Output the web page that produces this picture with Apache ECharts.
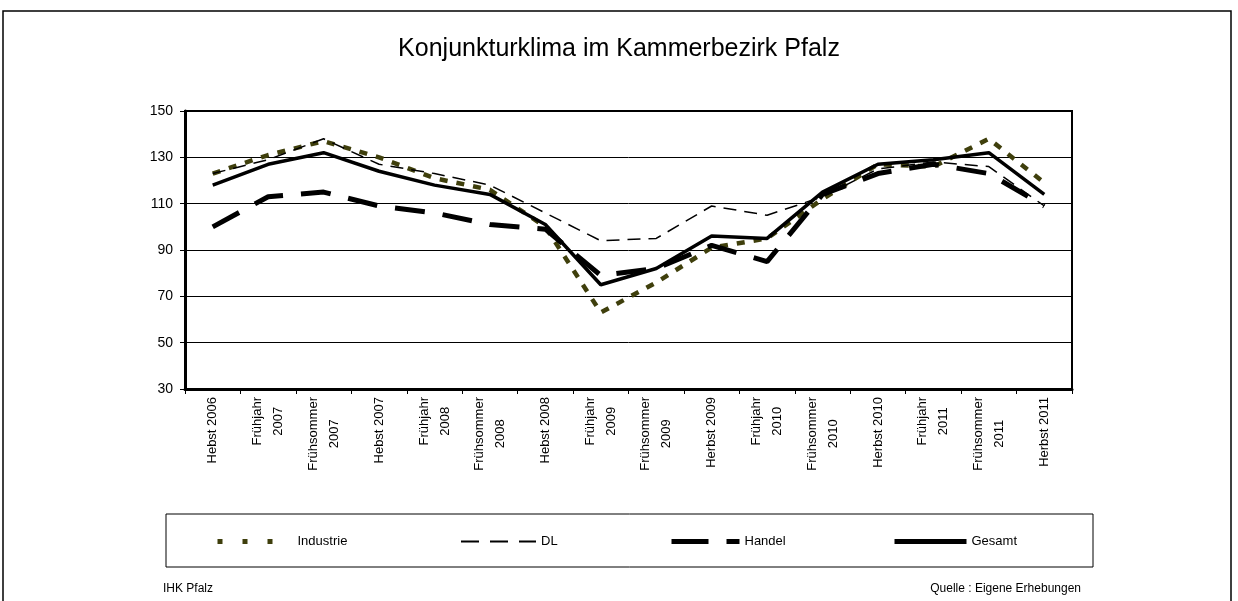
<!DOCTYPE html>
<html>
<head>
<meta charset="utf-8">
<script src="https://cdn.jsdelivr.net/npm/echarts@6/dist/echarts.min.js"></script>
<style>
  html, body { margin: 0; padding: 0; background: #fff; }
  #chart { width: 1238px; height: 601px; }
</style>
</head>
<body>
<div id="chart"></div>
<script>
// Daten
const categories = [
  'Hebst 2006', 'Frühjahr\n2007', 'Frühsommer\n2007', 'Hebst 2007',
  'Frühjahr\n2008', 'Frühsommer\n2008', 'Hebst 2008', 'Frühjahr\n2009',
  'Frühsommer\n2009', 'Herbst 2009', 'Frühjahr\n2010', 'Frühsommer\n2010',
  'Herbst 2010', 'Frühjahr\n2011', 'Frühsommer\n2011', 'Herbst 2011'
];
const industrie = [123, 131, 137, 130, 121, 116, 100, 63, 76, 91, 95, 112, 127, 126, 138, 119];
const dl        = [123, 129, 138, 127, 123, 118, 106, 94, 95, 109, 105, 113, 125, 128, 126, 109];
const handel    = [100, 113, 115, 109, 106, 101, 99, 79, 82, 92, 85, 114, 123, 127, 123, 109];
const gesamt    = [118, 127, 132, 124, 118, 114, 101, 75, 82, 96, 95, 115, 127, 129, 132, 114];

const FONT = '"Liberation Sans", Arial, sans-serif';
const chart = echarts.init(document.getElementById('chart'));

// gemeinsame Legenden-Einstellungen (Symbol ausblenden, nur Linie)
const legendBase = {
  top: 535,
  padding: 0,
  itemWidth: 75,
  itemHeight: 14,
  itemGap: 0,
  itemStyle: { opacity: 0 },
  textStyle: { fontFamily: FONT, fontSize: 13, color: '#000' }
};

const option = {
  backgroundColor: '#fff',
  animation: false,
  title: {
    text: 'Konjunkturklima im Kammerbezirk Pfalz',
    left: 'center',
    top: 32,
    textStyle: { fontFamily: FONT, fontSize: 25, fontWeight: 'normal', color: '#000' }
  },
  grid: {
    left: 185, right: 166, top: 111, bottom: 212,
    show: true, borderColor: '#000', borderWidth: 2
  },
  xAxis: {
    type: 'category',
    data: categories,
    boundaryGap: true,
    axisLine: { lineStyle: { color: '#000', width: 3 } },
    axisTick: { show: true, length: 5, lineStyle: { color: '#000', width: 1 } },
    axisLabel: {
      rotate: 90,
      interval: 0,
      margin: 8,
      fontFamily: FONT,
      fontSize: 13,
      color: '#000',
      formatter: v => v.split('\n').map(s => '{c|' + s + '}').join('\n'),
      rich: { c: { align: 'center', fontFamily: FONT, fontSize: 13, color: '#000', lineHeight: 21 } }
    }
  },
  yAxis: {
    type: 'value',
    min: 30, max: 150, interval: 20,
    axisLine: { show: true, lineStyle: { color: '#000', width: 3 } },
    axisTick: { show: true, length: 5, lineStyle: { color: '#000', width: 1 } },
    axisLabel: { fontFamily: FONT, fontSize: 14, color: '#000', margin: 12 },
    splitLine: { lineStyle: { color: '#000', width: 1 } }
  },
  legend: [
    Object.assign({}, legendBase, { left: 215, data: ['Industrie'], lineStyle: { type: [5, 20], width: 5 } }),
    Object.assign({}, legendBase, { left: 460, data: ['DL'], lineStyle: { type: [18, 11], width: 2 } }),
    Object.assign({}, legendBase, { left: 669, itemWidth: 68, data: ['Handel'], lineStyle: { type: [37, 18], width: 5 } }),
    Object.assign({}, legendBase, { left: 892, itemWidth: 72, data: ['Gesamt'], lineStyle: { width: 5 } })
  ],
  series: [
    {
      name: 'Industrie', type: 'line', data: industrie, symbol: 'none',
      lineStyle: { color: '#3f3f0c', width: 4.5, type: [8, 9] },
      itemStyle: { color: '#3f3f0c' }
    },
    {
      name: 'DL', type: 'line', data: dl, symbol: 'none',
      lineStyle: { color: '#000', width: 1.5, type: [13, 8] },
      itemStyle: { color: '#000' }
    },
    {
      name: 'Handel', type: 'line', data: handel, symbol: 'none',
      lineStyle: { color: '#000', width: 5, type: [30, 18] },
      itemStyle: { color: '#000' }
    },
    {
      name: 'Gesamt', type: 'line', data: gesamt, symbol: 'none',
      lineStyle: { color: '#000', width: 3.5 },
      itemStyle: { color: '#000' }
    }
  ],
  graphic: [
    { type: 'rect', shape: { x: 3, y: 11, width: 1228, height: 700 }, style: { fill: null, stroke: '#000', lineWidth: 1.5 }, z: -1 },
    { type: 'rect', shape: { x: 166, y: 514, width: 927, height: 53 }, style: { fill: null, stroke: '#000', lineWidth: 1 } },
    { type: 'text', left: 163, top: 583, style: { text: 'IHK Pfalz', font: '12px ' + FONT, fill: '#000' } },
    { type: 'text', right: 1238 - 1081, top: 583, style: { text: 'Quelle : Eigene Erhebungen', font: '12px ' + FONT, fill: '#000' } }
  ]
};

chart.setOption(option);
</script>
</body>
</html>
